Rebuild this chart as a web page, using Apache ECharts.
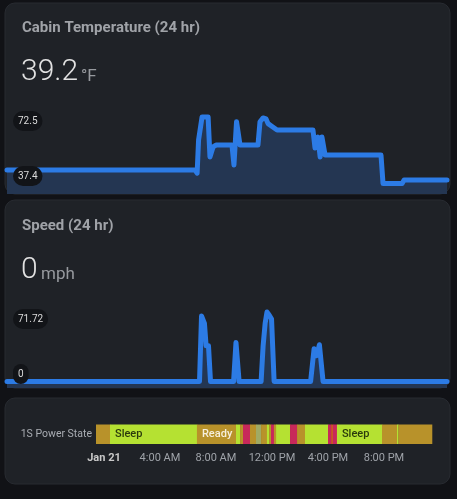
<!DOCTYPE html>
<html><head><meta charset="utf-8">
<script src="https://cdn.jsdelivr.net/npm/echarts@6/dist/echarts.min.js"></script>
<style>html,body{margin:0;padding:0;background:#111216;}#c{width:457px;height:499px;}</style>
</head><body><div id="c"></div>
<script>
// ---- data (time in hours since midnight Jan 21) ----
const timeMin = -0.57, timeMax = 23.43;

const tempTimes  = [-0.57, 9.69, 9.80, 9.88, 10.07, 10.40, 10.50, 10.67, 10.83, 11.70, 11.81, 11.95, 12.03, 12.14, 13.12, 13.23, 13.40, 13.56, 13.67, 13.89, 14.16, 16.12, 16.23, 16.39, 16.51, 16.61, 16.78, 19.83, 19.94, 20.98, 21.09, 23.43];
const tempValues = [44.5, 44.5, 42.9, 60.4, 72.5, 72.5, 51.4, 56.7, 57.7, 57.7, 47.2, 70.0, 69.5, 57.7, 57.7, 70.0, 72.0, 71.5, 69.0, 67.5, 65.6, 65.6, 56.1, 61.9, 51.4, 61.9, 52.4, 52.4, 37.4, 37.4, 39.2, 39.2];

const speedTimes  = [-0.57, 9.93, 10.04, 10.12, 10.20, 10.29, 10.42, 10.53, 11.79, 11.92, 12.09, 13.29, 13.40, 13.51, 13.61, 13.72, 13.86, 14.00, 15.99, 16.18, 16.31, 16.47, 16.67, 23.43];
const speedValues = [0, 0, 67.6, 67.6, 60, 36.9, 36.9, 0, 0, 40.3, 0, 0, 36.9, 60, 71.72, 69, 64.5, 0, 0, 33.8, 26.6, 37.9, 0, 0];

const powerStarts = [-0.57, 0.43, 6.64, 9.43, 9.72, 9.93, 10.43, 10.86, 11.22, 11.64, 11.79, 11.93, 12.14, 12.29, 13.29, 13.79, 14.36, 16.00, 16.22, 16.36, 16.64, 19.86, 20.93, 21.03];
const powerEnds   = [0.43, 6.64, 9.43, 9.72, 9.93, 10.43, 10.86, 11.22, 11.64, 11.79, 11.93, 12.14, 12.29, 13.29, 13.79, 14.36, 16.00, 16.22, 16.36, 16.64, 19.86, 20.93, 21.03, 23.43];
const powerStates = ['Ready','Sleep','Ready','Sleep','Ready','Drive','Ready','Park','Ready','Sleep','Ready','Drive','Ready','Sleep','Drive','Ready','Sleep','Drive','Charge','Drive','Sleep','Ready','Sleep','Ready'];
const powerCategory = ['1S Power State'];

const tickValues = [0, 4, 8, 12, 16, 20];
const tickLabels = ['Jan 21', '4:00 AM', '8:00 AM', '12:00 PM', '4:00 PM', '8:00 PM'];

const tempTitle = 'Cabin Temperature (24 hr)', tempCurrent = '39.2', tempUnit = '°F';
const tempMax = '72.5', tempMin = '37.4';
const speedTitle = 'Speed (24 hr)', speedCurrent = '0', speedUnit = 'mph';
const speedMax = '71.72', speedMin = '0';

// ---- styles ----
const stateColors = { Ready: '#b8922a', Sleep: '#b5e132', Drive: '#c8285a', Park: '#a0aa64', Charge: '#cd5528' };
const stateText = { Ready: '#f6efdc', Sleep: '#2b3a0c', Drive: '#fff', Park: '#222', Charge: '#fff' };
const lineColor = '#2c7be5';
const areaColor = '#243652';

const chart = echarts.init(document.getElementById('c'), null, { renderer: 'canvas' });

function card(y, h) {
  return { type: 'rect', z: -10, shape: { x: 5, y: y, width: 445, height: h, r: 10 },
    style: { fill: '#1f2227', stroke: '#282b31', lineWidth: 1 } };
}
function txt(text, x, y, size, color, weight) {
  return { type: 'text', z: 50, style: { text: text, x: x, y: y, verticalAlign: 'middle',
    fill: color, font: (weight || 'normal') + ' ' + size + 'px Roboto' } };
}
function pill(text, x, y) {
  return { type: 'text', z: 60, style: { text: text, x: x, y: y, verticalAlign: 'middle',
    fill: '#dadada', font: '10px Roboto', backgroundColor: '#121418', padding: [5, 5, 5, 5], borderRadius: 10 } };
}

function renderPower(params, api) {
  const s = api.value(0), e = api.value(1);
  const state = powerStates[params.dataIndex];
  const a = api.coord([s, 0]), b = api.coord([e, 0]);
  const h = api.size([0, 1])[1];
  const x = a[0], w = b[0] - a[0], y = a[1] - h / 2;
  const children = [{ type: 'rect', shape: { x: x, y: y, width: w + 0.3, height: h }, style: { fill: stateColors[state] } }];
  if (w >= 36) {
    children.push({ type: 'text', style: { text: state, x: x + 5, y: a[1], verticalAlign: 'middle',
      fill: stateText[state], font: '500 11px Roboto' } });
  }
  return { type: 'group', children: children };
}

const option = {
  backgroundColor: '#111216',
  animation: false,
  graphic: { elements: [
    card(3, 191), card(200, 188), card(398, 86),
    txt(tempTitle, 22, 28.5, 15, '#a0a3a8', 'bold'),
    txt(tempCurrent, 21, 72.5, 30, '#e2e2e2', '300'),
    txt(tempUnit, 81, 76.5, 17, '#979a9f', 'normal'),
    txt(speedTitle, 22, 226.5, 15, '#a0a3a8', 'bold'),
    txt(speedCurrent, 21, 270.5, 30, '#e2e2e2', '300'),
    txt(speedUnit, 41, 274.5, 17, '#979a9f', 'normal'),
    pill(tempMax, 13, 121), pill(tempMin, 13, 176),
    pill(speedMax, 13, 319), pill(speedMin, 13, 374)
  ] },
  grid: [
    { left: 7, width: 440, top: 100, height: 94 },
    { left: 7, width: 440, top: 295, height: 93 },
    { left: 96, width: 336, top: 424.5, height: 19.5 }
  ],
  xAxis: [
    { gridIndex: 0, type: 'value', min: timeMin, max: timeMax, show: false },
    { gridIndex: 1, type: 'value', min: timeMin, max: timeMax, show: false },
    { gridIndex: 2, type: 'value', min: timeMin, max: timeMax,
      axisLine: { show: false }, axisTick: { show: false }, splitLine: { show: false },
      axisLabel: { customValues: tickValues, margin: 9, fontSize: 11, color: '#9fa3a9', fontFamily: 'Roboto',
        formatter: function (v) { const i = tickValues.indexOf(v); if (i < 0) return ''; return i === 0 ? '{b|' + tickLabels[i] + '}' : tickLabels[i]; },
        rich: { b: { fontWeight: 'bold', color: '#c9c9c9', fontSize: 11, fontFamily: 'Roboto' } } } }
  ],
  yAxis: [
    { gridIndex: 0, type: 'value', min: 31.86, max: 81.46, show: false },
    { gridIndex: 1, type: 'value', min: -6.71, max: 89.3, show: false },
    { gridIndex: 2, type: 'category', data: powerCategory,
      axisLine: { show: false }, axisTick: { show: false },
      axisLabel: { margin: 4, fontSize: 10.5, color: '#a9adb3', fontFamily: 'Roboto' } }
  ],
  series: [
    { type: 'line', xAxisIndex: 0, yAxisIndex: 0, showSymbol: false, symbol: 'none',
      data: tempTimes.map((t, i) => [t, tempValues[i]]),
      lineStyle: { color: lineColor, width: 5, join: 'round', cap: 'round' },
      areaStyle: { color: areaColor, opacity: 1, origin: 'start' } },
    { type: 'line', xAxisIndex: 1, yAxisIndex: 1, showSymbol: false, symbol: 'none',
      data: speedTimes.map((t, i) => [t, speedValues[i]]),
      lineStyle: { color: lineColor, width: 5, join: 'round', cap: 'round' },
      areaStyle: { color: areaColor, opacity: 1, origin: 'start' } },
    { type: 'custom', xAxisIndex: 2, yAxisIndex: 2, renderItem: renderPower,
      encode: { x: [0, 1], y: 2 },
      data: powerStarts.map((s, i) => [s, powerEnds[i], 0]) }
  ]
};
chart.setOption(option);
</script></body></html>
